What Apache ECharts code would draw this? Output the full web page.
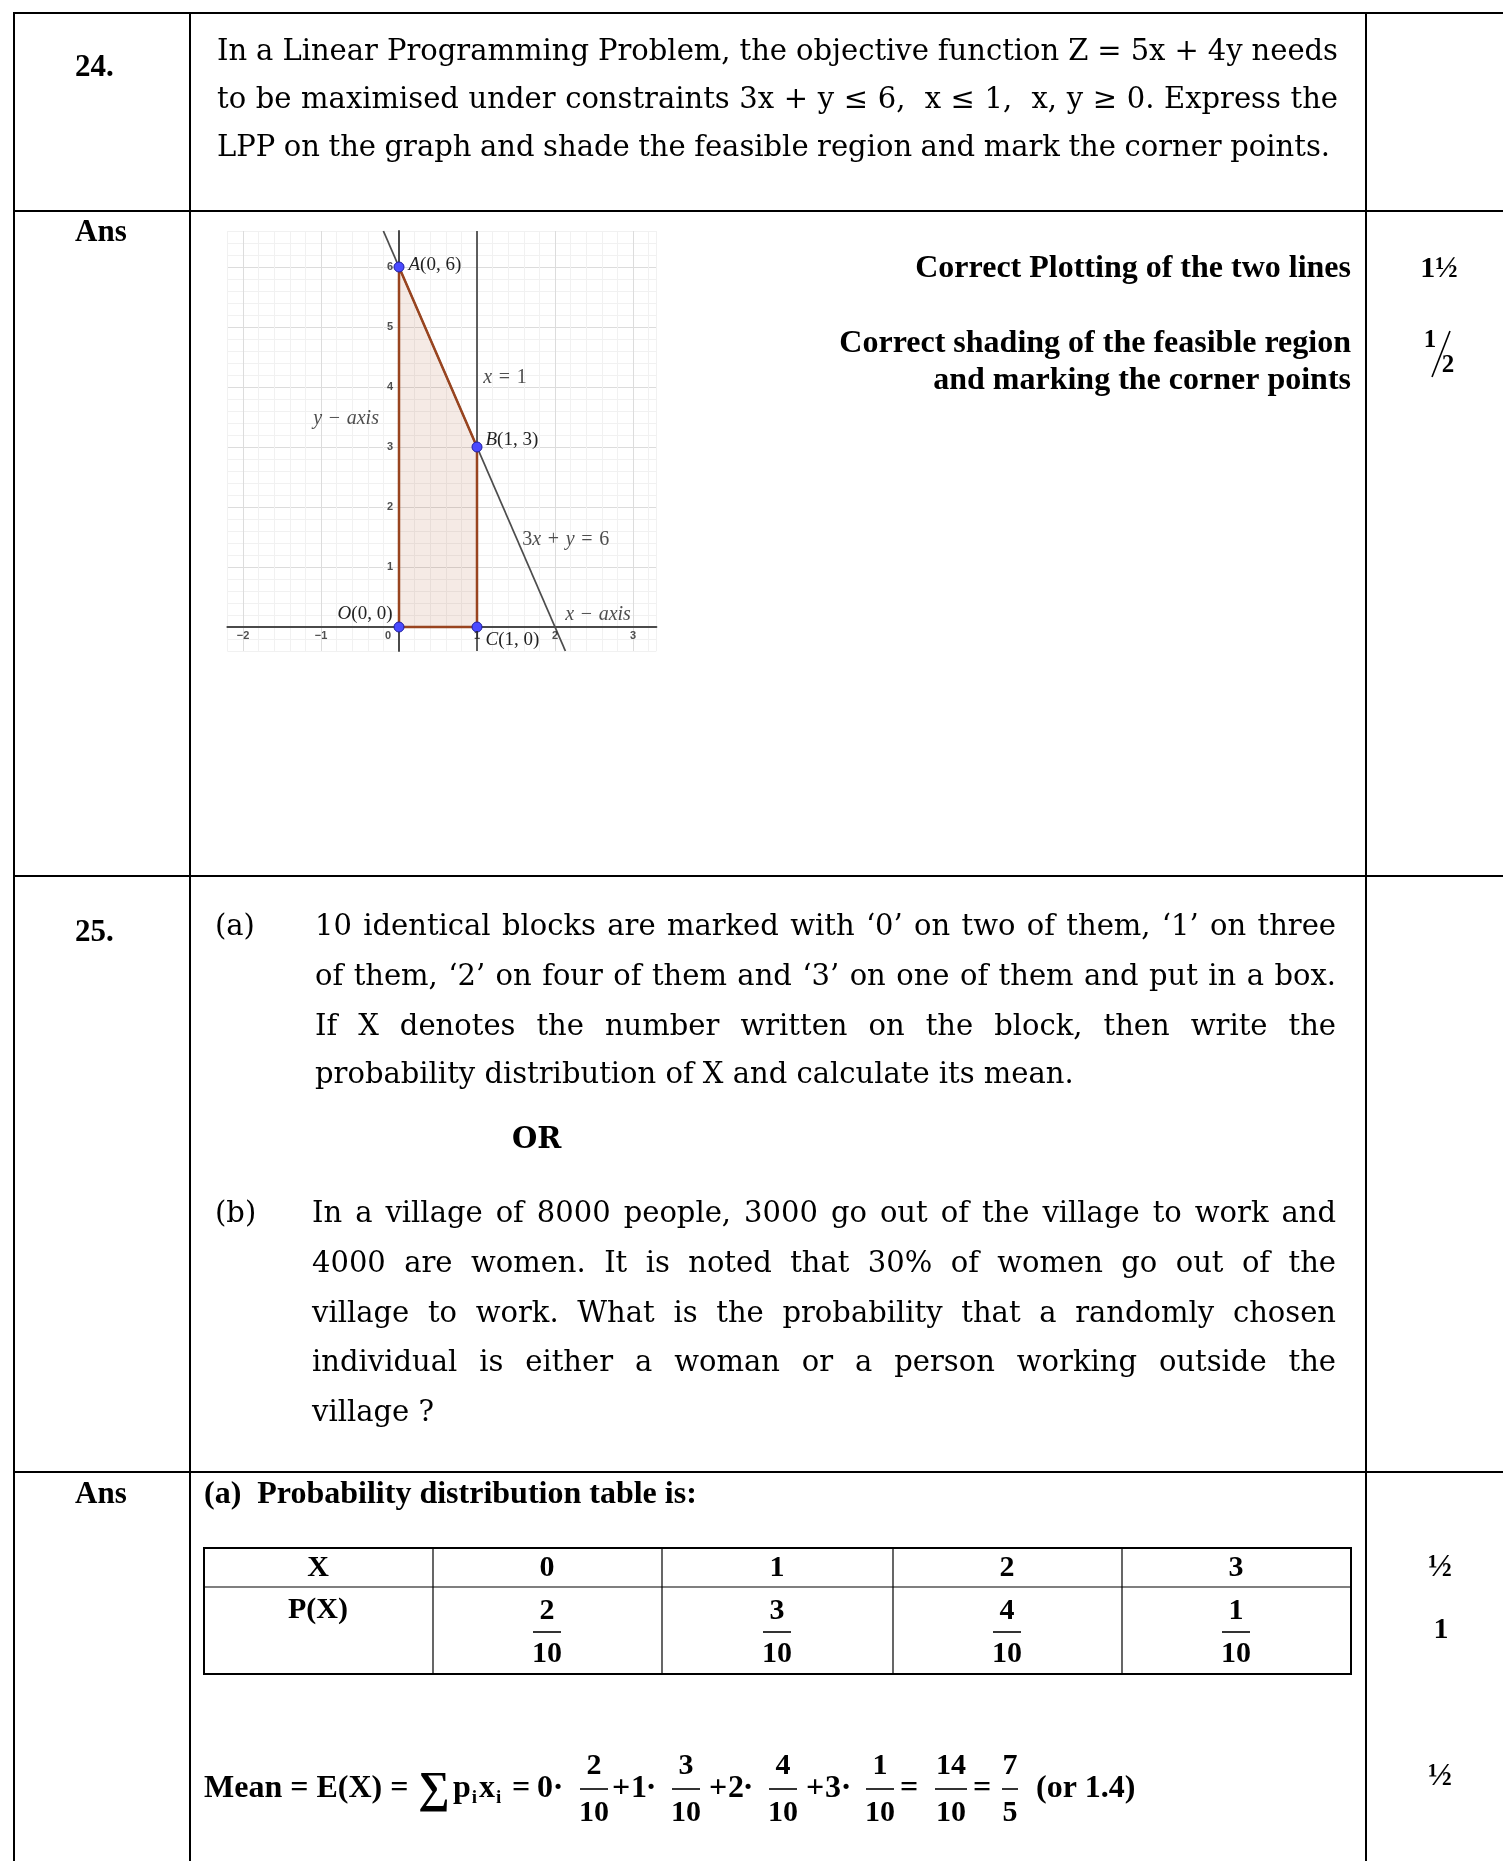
<!DOCTYPE html>
<html>
<head>
<meta charset="utf-8">
<script src="https://cdn.jsdelivr.net/npm/echarts@6/dist/echarts.min.js"></script>
<style>
html, body { margin: 0; padding: 0; background: #fff; }
#c { width: 1503px; height: 1861px; }
</style>
</head>
<body>
<div id="c"></div>
<script>
// ---------------- DATA ----------------
const xTickLabels = [-2, -1, 0, 1, 2, 3];
const yTickLabels = [1, 2, 3, 4, 5, 6];
const cornerNames = ['O', 'C', 'B', 'A'];
const cornerX = [0, 1, 1, 0];
const cornerY = [0, 0, 3, 6];
const lineXeq1 = [[1, -0.4], [1, 6.6]];          // x = 1
const line3xy6 = [[-0.2, 6.6], [2.1333, -0.4]];  // 3x + y = 6
const xValues = [0, 1, 2, 3];
const probNum = [2, 3, 4, 1];
const probDen = [10, 10, 10, 10];
const meanFrac = [14, 10];
const meanSimple = [7, 5];
const meanDecimal = '1.4';

const q24Lines = [
  'In a Linear Programming Problem, the objective function Z = 5x + 4y needs',
  'to be maximised under constraints 3x + y \u2264 6,  x \u2264 1,  x, y \u2265 0. Express the',
  'LPP on the graph and shade the feasible region and mark the corner points.'
];
const q25aLines = [
  '10 identical blocks are marked with \u20180\u2019 on two of them, \u20181\u2019 on three',
  'of them, \u20182\u2019 on four of them and \u20183\u2019 on one of them and put in a box.',
  'If X denotes the number written on the block, then write the',
  'probability distribution of X and calculate its mean.'
];
const q25bLines = [
  'In a village of 8000 people, 3000 go out of the village to work and',
  '4000 are women. It is noted that 30% of women go out of the',
  'village to work. What is the probability that a randomly chosen',
  'individual is either a woman or a person working outside the',
  'village ?'
];

// ---------------- LAYOUT / STYLE ----------------
const TIMES = 'Liberation Serif';
const CENT = 'DejaVu Serif';
const MINOR = '#f1f1f1', MAJOR = '#dcdcdc';

const mctx = document.createElement('canvas').getContext('2d');
function tw(str, size, family, weight, style) {
  mctx.font = (style || 'normal') + ' ' + (weight || 'normal') + ' ' + size + 'px "' + family + '"';
  return mctx.measureText(str).width;
}
function txt(x, y, text, o) {
  o = o || {};
  const al = o.align || 'left';
  return {
    type: 'text', x: x, y: y, silent: true, z: 10, scaleX: o.scaleX || 1,
    style: {
      text: text, fill: o.color || '#000', fontSize: o.size || 29,
      fontFamily: o.family || CENT, fontWeight: o.weight || 'normal', fontStyle: o.style || 'normal',
      align: al, textAlign: al, verticalAlign: 'middle', textVerticalAlign: 'middle'
    }
  };
}
function hline(x1, x2, y, w) {
  return { type: 'line', silent: true, z: 10, shape: { x1: x1, y1: y, x2: x2, y2: y }, style: { stroke: '#000', lineWidth: w || 2 } };
}
function vline(x, y1, y2, w) {
  return { type: 'line', silent: true, z: 10, shape: { x1: x, y1: y1, x2: x, y2: y2 }, style: { stroke: '#000', lineWidth: w || 2 } };
}
function justified(str, x0, x1, y, o, justify) {
  const words = str.split(' ');
  const ws = words.map(w => tw(w, o.size, o.family, o.weight));
  const sum = ws.reduce((a, b) => a + b, 0);
  const sp = tw(' ', o.size, o.family, o.weight);
  let gap = sp, scale = 1;
  if (justify && words.length > 1) {
    gap = (x1 - x0 - sum) / (words.length - 1);
    const minGap = sp * 0.6;
    if (gap < minGap) { scale = (x1 - x0) / (sum + minGap * (words.length - 1)); gap = minGap * scale; }
  }
  const out = [];
  let x = x0;
  words.forEach((w, i) => {
    if (w) out.push(txt(x, y, w, Object.assign({}, o, { scaleX: scale })));
    x += ws[i] * scale + gap;
  });
  return out;
}
function frac(cx, yNum, yBar, yDen, num, den, o, barW) {
  return [
    txt(cx, yNum, String(num), Object.assign({}, o, { align: 'center' })),
    { type: 'line', silent: true, z: 10, shape: { x1: cx - barW / 2, y1: yBar, x2: cx + barW / 2, y2: yBar }, style: { stroke: '#000', lineWidth: 1.6 } },
    txt(cx, yDen, String(den), Object.assign({}, o, { align: 'center' }))
  ];
}

const qFont = { size: 29, family: CENT, weight: 'normal' };
const bFont = { size: 32, family: TIMES, weight: 'bold' };

const els = [];
// frame
els.push(hline(13, 1503, 13), hline(13, 1503, 211), hline(13, 1503, 876), hline(13, 1503, 1472));
els.push(vline(14, 12, 1861), vline(190, 12, 1861), vline(1366, 12, 1861));

// left column labels
els.push(txt(75, 68, '24.', { size: 31, family: TIMES, weight: 'bold' }));
els.push(txt(75, 233, 'Ans', { size: 31, family: TIMES, weight: 'bold' }));
els.push(txt(75, 933, '25.', { size: 31, family: TIMES, weight: 'bold' }));
els.push(txt(75, 1495, 'Ans', { size: 31, family: TIMES, weight: 'bold' }));

// Q24
const q24Y = [52, 100, 148], q24End = [1338, 1338, 1330];
q24Lines.forEach((l, i) => els.push(...justified(l, 217, q24End[i], q24Y[i], qFont, true)));

// marking scheme Q24
els.push(txt(1351, 269, 'Correct Plotting of the two lines', Object.assign({}, bFont, { align: 'right' })));
els.push(txt(1351, 344, 'Correct shading of the feasible region', Object.assign({}, bFont, { align: 'right' })));
els.push(txt(1351, 381, 'and marking the corner points', Object.assign({}, bFont, { align: 'right' })));
els.push(txt(1439, 269, '1\u00bd', { size: 30, family: TIMES, weight: 'bold', align: 'center' }));
els.push(txt(1430, 341, '1', { size: 25, family: TIMES, weight: 'bold', align: 'center' }));
els.push({ type: 'line', silent: true, z: 10, shape: { x1: 1450, y1: 331, x2: 1432, y2: 377 }, style: { stroke: '#000', lineWidth: 1.6 } });
els.push(txt(1448, 366, '2', { size: 25, family: TIMES, weight: 'bold', align: 'center' }));

// Q25
els.push(txt(215, 927, '(a)', qFont));
const q25aY = [927, 977, 1027, 1075];
q25aLines.forEach((l, i) => els.push(...justified(l, 315, 1336, q25aY[i], qFont, i < 3)));
els.push(txt(512, 1140, 'OR', { size: 29, family: CENT, weight: 'bold' }));
els.push(txt(215, 1214, '(b)', qFont));
const q25bY = [1214, 1264, 1314, 1363, 1413];
q25bLines.forEach((l, i) => els.push(...justified(l, 312, 1336, q25bY[i], qFont, i < 4)));

// Ans 25
els.push(txt(204, 1495, '(a)  Probability distribution table is:', bFont));
// table
els.push({ type: 'rect', silent: true, z: 10, shape: { x: 204, y: 1548, width: 1147, height: 126 }, style: { fill: 'none', stroke: '#000', lineWidth: 2 } });
els.push(hline(204, 1351, 1587, 1.2));
const colLines = [433, 662, 893, 1122];
colLines.forEach(x => els.push(vline(x, 1548, 1674, 1.2)));
const colCenters = [547, 777, 1007, 1236];
const tFont = { size: 30, family: TIMES, weight: 'bold' };
els.push(txt(318, 1568, 'X', Object.assign({}, tFont, { align: 'center' })));
els.push(txt(318, 1610, 'P(X)', Object.assign({}, tFont, { align: 'center' })));
xValues.forEach((v, i) => {
  els.push(txt(colCenters[i], 1568, String(v), Object.assign({}, tFont, { align: 'center' })));
  els.push(...frac(colCenters[i], 1611, 1632, 1654, probNum[i], probDen[i], tFont, 28));
});
els.push(txt(1440, 1568, '\u00bd', { size: 32, family: TIMES, weight: 'bold', align: 'center' }));
els.push(txt(1441, 1630, '1', { size: 30, family: TIMES, weight: 'bold', align: 'center' }));
els.push(txt(1440, 1777, '\u00bd', { size: 32, family: TIMES, weight: 'bold', align: 'center' }));

// mean expression
const mY = 1789, nY = 1766, dY = 1813;
const mFont = { size: 32, family: TIMES, weight: 'bold' };
const fFont = { size: 30, family: TIMES, weight: 'bold' };
els.push(txt(204, mY, 'Mean = E(X) =', mFont));
els.push(txt(434, mY + 2, '\u2211', { size: 44, family: TIMES, weight: 'bold', align: 'center' }));
(function () {
  let x = 453;
  const parts = [['p', 0, 32, 1], ['i', 9, 19, 2], ['x', 0, 32, 1], ['i', 9, 19, 0]];
  parts.forEach(p => {
    els.push(txt(x, mY + p[1], p[0], { size: p[2], family: TIMES, weight: 'bold' }));
    x += tw(p[0], p[2], TIMES, 'bold') + p[3];
  });
})();
const opCenters = [521, 621, 718, 815];
const valCenters = [545, 639, 736, 833];
const dotCenters = [558, 651, 748, 846];
const fracCenters = [594, 686, 783, 880];
xValues.forEach((v, i) => {
  els.push(txt(opCenters[i], mY, i === 0 ? '=' : '+', Object.assign({}, mFont, { align: 'center' })));
  els.push(txt(valCenters[i], mY, String(v), Object.assign({}, mFont, { align: 'center' })));
  els.push(txt(dotCenters[i], mY, '\u00b7', Object.assign({}, mFont, { align: 'center' })));
  els.push(...frac(fracCenters[i], nY, mY, dY, probNum[i], probDen[i], fFont, 28));
});
els.push(txt(909, mY, '=', Object.assign({}, mFont, { align: 'center' })));
els.push(...frac(951, nY, mY, dY, meanFrac[0], meanFrac[1], fFont, 32));
els.push(txt(982, mY, '=', Object.assign({}, mFont, { align: 'center' })));
els.push(...frac(1010, nY, mY, dY, meanSimple[0], meanSimple[1], fFont, 16));
els.push(txt(1036, mY, '(or ' + meanDecimal + ')', mFont));

// ---------------- CHART ----------------
const tickFont = { fontSize: 11, fontWeight: 'bold', fontFamily: 'Liberation Sans', color: '#222' };
const cornerLabelLayout = [
  { position: 'left', distance: 1, offset: [0, -13] },
  { position: 'right', distance: 3, offset: [0, 13] },
  { position: 'right', distance: 3, offset: [0, -7] },
  { position: 'right', distance: 4, offset: [0, -2] }
];
const S = '\u2004';
const annotations = [
  { value: [1.08, 4.15], fmt: '{i|x}' + S + '=' + S + '1' },
  { value: [1.58, 1.45], fmt: '3{i|x}' + S + '+' + S + '{i|y}' + S + '=' + S + '6' },
  { value: [-1.10, 3.47], fmt: '{i|y}' + S + '\u2212' + S + '{i|axis}' },
  { value: [2.13, 0.20], fmt: '{i|x}' + S + '\u2212' + S + '{i|axis}' }
];
const mathRich = { i: { fontStyle: 'italic', fontFamily: 'Liberation Serif', fontSize: 19, color: '#222' } };
const annRich = { i: { fontStyle: 'italic', fontFamily: 'Liberation Serif', fontSize: 20, color: '#222' } };

function tickText(v) { return v < 0 ? '\u2212' + (-v) : String(v); }

const xTickData = xTickLabels.map(v => ({
  value: [v, 0],
  label: v === 0 ? { formatter: '0', offset: [-11, 0] } : { formatter: tickText(v) }
}));
const yTickData = yTickLabels.map(v => ({ value: [0, v], label: { formatter: tickText(v) } }));

const option = {
  animation: false,
  backgroundColor: '#fff',
  grid: { left: 227.4, top: 231, width: 429, height: 420, containLabel: false },
  xAxis: {
    type: 'value', min: -2.2, max: 3.3, interval: 0.2,
    axisLine: { onZero: true, lineStyle: { color: '#4a4a4a', width: 2 } },
    axisTick: { show: false },
    axisLabel: { show: false },
    splitLine: { show: true, lineStyle: { color: [MINOR, MAJOR, MINOR, MINOR, MINOR], width: 1 } }
  },
  yAxis: {
    type: 'value', min: -0.4, max: 6.6, interval: 0.2,
    axisLine: { onZero: true, lineStyle: { color: '#4a4a4a', width: 2 } },
    axisTick: { show: false },
    axisLabel: { show: false },
    splitLine: { show: true, lineStyle: { color: [MINOR, MINOR, MAJOR, MINOR, MINOR], width: 1 } }
  },
  series: [
    { type: 'line', data: lineXeq1, symbol: 'none', silent: true, lineStyle: { color: '#4d4d4d', width: 1.8 }, z: 2 },
    { type: 'line', data: line3xy6, symbol: 'none', silent: true, lineStyle: { color: '#4d4d4d', width: 1.8 }, z: 2 },
    {
      type: 'custom', coordinateSystem: 'cartesian2d', silent: true, z: 3,
      data: cornerX.map((x, i) => [x, cornerY[i]]),
      renderItem: function (params, api) {
        if (params.dataIndex !== 0) return null;
        const pts = cornerX.map((x, i) => api.coord([x, cornerY[i]]));
        return { type: 'polygon', shape: { points: pts }, style: { fill: 'rgba(153,51,0,0.1)', stroke: '#99441f', lineWidth: 2.5, lineJoin: 'round' } };
      }
    },
    {
      type: 'scatter', silent: true, z: 5, symbolSize: 10,
      itemStyle: { color: '#4a4aff', borderColor: '#1f1fa0', borderWidth: 1, opacity: 1 },
      data: cornerNames.map((n, i) => ({ name: n, value: [cornerX[i], cornerY[i]], label: cornerLabelLayout[i] })),
      label: {
        show: true, fontFamily: 'Liberation Serif', fontSize: 19, color: '#222',
        formatter: p => '{i|' + p.name + '}(' + p.value[0] + ', ' + p.value[1] + ')',
        rich: mathRich
      }
    },
    {
      type: 'scatter', silent: true, z: 6, symbolSize: 0,
      data: annotations.map(a => ({ value: a.value, label: { formatter: a.fmt } })),
      label: { show: true, position: 'right', distance: 0, fontFamily: 'Liberation Serif', fontSize: 20, color: '#222', rich: annRich }
    },
    {
      type: 'scatter', silent: true, z: 6, symbolSize: 0,
      data: xTickData,
      label: Object.assign({ show: true, position: 'bottom', distance: 3 }, tickFont)
    },
    {
      type: 'scatter', silent: true, z: 6, symbolSize: 0,
      data: yTickData,
      label: Object.assign({ show: true, position: 'left', distance: 6 }, tickFont)
    }
  ],
  graphic: { elements: els }
};

const chart = echarts.init(document.getElementById('c'), null, { renderer: 'canvas', width: 1503, height: 1861 });
chart.setOption(option);
</script>
</body>
</html>
